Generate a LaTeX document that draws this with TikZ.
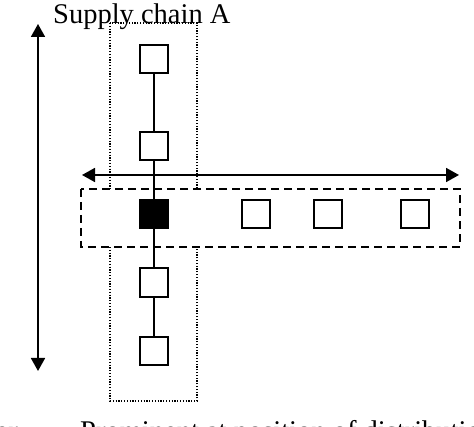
\documentclass[tikz,border=0pt]{standalone}
\usepackage{fontspec}
\setmainfont{Liberation Serif}
\usetikzlibrary{arrows.meta}
\tikzset{
  box/.style={draw=black, line width=1.6pt, fill=white, minimum width=28.5pt, minimum height=28.5pt, inner sep=0pt, outer sep=0pt},
  blackbox/.style={box, fill=black},
  chainline/.style={line width=1.5pt},
  dblarrow/.style={line width=1.8pt, {Triangle[length=13pt,width=14pt]}-{Triangle[length=13pt,width=14pt]}},
  dottedframe/.style={line width=1.2pt, dash pattern=on 1.2pt off 1.6pt},
  dashedframe/.style={line width=1.6pt, dash pattern=on 8pt off 5pt, fill=white},
  lbl/.style={inner sep=0pt, font=\fontsize{28.5}{30}\selectfont}
}
\begin{document}
\begin{tikzpicture}[x=1pt,y=-1pt]
\useasboundingbox (0,0) rectangle (474,427);
\clip (0,0) rectangle (474,427);
% frames
\draw[dottedframe] (110,23) rectangle (197,401);
\draw[dashedframe] (81,189) rectangle (460,247);
% arrows
\coordinate (vt) at (38,24);
\coordinate (vb) at (38,371);
\coordinate (hl) at (82,175);
\coordinate (hr) at (459,175);
\draw[dblarrow] (vt) -- (vb);
\draw[dblarrow] (hl) -- (hr);
% chain squares
\node[box] (a1) at (154,59) {};
\node[box] (a2) at (154,146) {};
\node[blackbox] (d) at (154,214) {};
\node[box] (a4) at (154,282.5) {};
\node[box] (a5) at (154,351) {};
\node[box] (b1) at (256,214) {};
\node[box] (b2) at (328,214) {};
\node[box] (b3) at (415,214) {};
\draw[chainline] (a1) -- (a2);
\draw[chainline] (a2) -- (d);
\draw[chainline] (d) -- (a4);
\draw[chainline] (a4) -- (a5);
% texts
\node[lbl, anchor=base west] (title) at (53,23.5) {Supply chain A};
\node[lbl, anchor=base east] (capl) at (18,441) {ter};
\node[lbl, anchor=base west] (capr) at (80,441) {Prominent at position of distribution};
\end{tikzpicture}
\end{document}
